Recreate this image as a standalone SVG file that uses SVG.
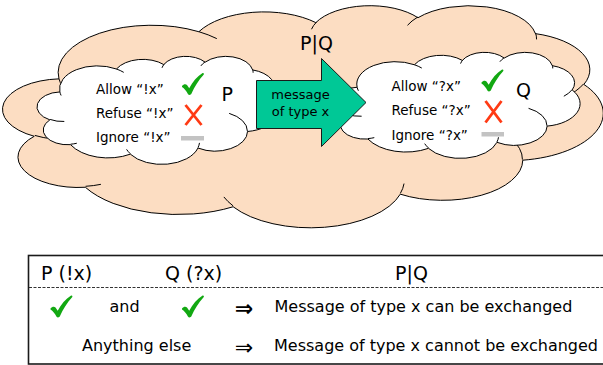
<svg xmlns="http://www.w3.org/2000/svg" xmlns:xlink="http://www.w3.org/1999/xlink" width="603" height="365" viewBox="0 0 603 365">
  <style>
    .t { font-family: "DejaVu Sans", Verdana, sans-serif; fill: #000; }
    .lbl { font-size: 13.5px; }
    .big { font-size: 19px; }
    .row { font-size: 16px; }
    .implies { font-size: 22px; }
    .peach { fill: #FCDDC2; stroke: #000; stroke-width: 1; }
    .white { fill: #FFFFFF; stroke: #000; stroke-width: 1; }
    .inner { fill: none; stroke: #000; stroke-width: 1; }
    .tick { fill: #12A812; }
    .cross { stroke: #FF3A14; stroke-width: 2.8; stroke-linecap: butt; fill: none; }
    .dash { fill: #C3C3C3; }
  </style>
  <defs>
    <!-- cloud outline in a 100 x 100 box -->
    <path id="cloud-outline" vector-effect="non-scaling-stroke" d="M9.028,33.264 A15.632,21.273 0 0 1 32.419,12.039 A12.345,16.822 0 0 1 51.981,7.938 A10.104,13.762 0 0 1 69.058,5.734 A11.243,15.266 0 0 1 88.699,12.898 A12.345,16.836 0 0 1 96.801,35.778 A15.683,21.343 0 0 1 86.583,69.905 A13.391,18.211 0 0 1 66.100,85.206 A15.630,21.331 0 0 1 38.148,90.882 A17.870,24.405 0 0 1 13.433,82.100 A10.093,13.699 0 0 1 4.889,59.132 A10.058,13.762 0 0 1 9.028,33.264 Z"/>
    <!-- the short inner arcs where the puffs overlap -->
    <path id="cloud-inner" vector-effect="non-scaling-stroke" d="M10.863,60.595 A10.058,13.762 0 0 1 5.000,58.750 M16.037,80.785 A10.093,13.699 0 0 1 13.470,81.669 M38.144,90.486 A15.630,21.331 0 0 1 36.597,86.454 M66.729,80.442 A15.630,21.331 0 0 1 66.111,84.861 M79.002,53.134 A13.391,18.211 0 0 1 86.528,69.650 M96.755,35.542 A12.345,16.836 0 0 1 93.400,41.738 M88.713,12.560 A11.243,15.266 0 0 1 88.889,15.486 M67.310,9.148 A11.243,15.266 0 0 1 69.028,5.417 M51.252,10.926 A10.104,13.762 0 0 1 52.083,7.711 M32.407,12.019 A15.632,21.273 0 0 1 35.417,15.141 M9.553,36.549 A15.632,21.273 0 0 1 9.028,33.266"/>
    <!-- green tick, 22 x 22 -->
    <path id="tick" d="M0,13 C1.5,11.2 3.6,10.8 5,12 L7.2,15.2 C10.5,9 15,3.5 20.6,0 C21.8,-0.3 22.3,0.8 21.6,1.8 C16.5,7.5 12.6,13.5 9.4,20.8 C8.8,22.2 6.6,22.3 5.9,21 C4.3,18 2.4,15.6 0,14 Z"/>
  </defs>

  <!-- outer composition cloud -->
  <g id="cloud-pq">
    <use xlink:href="#cloud-outline" class="peach" transform="translate(5,5) scale(5.98,2.22)"/>
    <use xlink:href="#cloud-inner" class="inner" transform="translate(5,5) scale(5.98,2.22)"/>
    <text class="t big" x="316.5" y="50" text-anchor="middle">P|Q</text>
  </g>

  <!-- process P -->
  <g id="cloud-p">
    <use xlink:href="#cloud-outline" class="white" transform="translate(38,56) scale(2.42,1.08)"/>
    <use xlink:href="#cloud-inner" class="inner" transform="translate(38,56) scale(2.42,1.08)"/>
    <text class="t lbl" x="96" y="93.5">Allow “!x”</text>
    <text class="t lbl" x="96" y="117.5">Refuse “!x”</text>
    <text class="t lbl" x="96" y="141.5">Ignore “!x”</text>
    <use xlink:href="#tick" class="tick" transform="translate(182,73)"/>
    <path class="cross" d="M185.5,105 L201.5,125 M201.5,105 L185.5,125"/>
    <rect class="dash" x="181" y="136" width="23" height="4.5"/>
    <text class="t big" x="221.5" y="100.5">P</text>
  </g>

  <!-- process Q -->
  <g id="cloud-q">
    <use xlink:href="#cloud-outline" class="white" transform="translate(335,52) scale(2.45,1.06)"/>
    <use xlink:href="#cloud-inner" class="inner" transform="translate(335,52) scale(2.45,1.06)"/>
    <text class="t lbl" x="391.5" y="91">Allow “?x”</text>
    <text class="t lbl" x="391.5" y="115">Refuse “?x”</text>
    <text class="t lbl" x="391.5" y="139.5">Ignore “?x”</text>
    <use xlink:href="#tick" class="tick" transform="translate(481.5,69.5)"/>
    <path class="cross" d="M485.5,101 L501.5,122.5 M501.5,101 L485.5,122.5"/>
    <rect class="dash" x="481.5" y="132" width="22.5" height="4.5"/>
    <text class="t big" x="516" y="96.5">Q</text>
  </g>

  <!-- message flow from P to Q -->
  <g id="connectors">
    <g id="msg-arrow">
      <polygon points="256.5,80.5 321.5,80.5 321.5,58.5 366,102.5 321.5,146.5 321.5,128.5 256.5,128.5" fill="#00C896" stroke="#1a1a1a" stroke-width="1"/>
      <text class="t" font-size="13px" x="300.5" y="98.5" text-anchor="middle">message</text>
      <text class="t" font-size="13px" x="300.5" y="115.5" text-anchor="middle">of type x</text>
    </g>
  </g>

  <!-- truth table -->
  <g id="table">
    <rect x="28.5" y="255.5" width="600" height="108.5" fill="#FFFFFF" stroke="#1a1a1a" stroke-width="1.6"/>
    <line x1="29" y1="287.5" x2="603" y2="287.5" stroke="#333" stroke-width="1" stroke-dasharray="3,1.5"/>
    <text class="t big" x="41" y="280">P (!x)</text>
    <text class="t big" x="165" y="280">Q (?x)</text>
    <text class="t big" x="411.5" y="279.5" text-anchor="middle">P|Q</text>

    <use xlink:href="#tick" class="tick" transform="translate(50.5,295.5)"/>
    <text class="t row" x="109.5" y="312">and</text>
    <use xlink:href="#tick" class="tick" transform="translate(182,295.5)"/>
    <text class="t implies" font-weight="bold" x="244" y="315.5" text-anchor="middle">⇒</text>
    <text class="t row" x="274.5" y="312">Message of type x can be exchanged</text>

    <text class="t row" x="82" y="351">Anything else</text>
    <text class="t implies" x="244" y="354.5" text-anchor="middle">⇒</text>
    <text class="t row" x="274" y="351">Message of type x cannot be exchanged</text>
  </g>
</svg>
